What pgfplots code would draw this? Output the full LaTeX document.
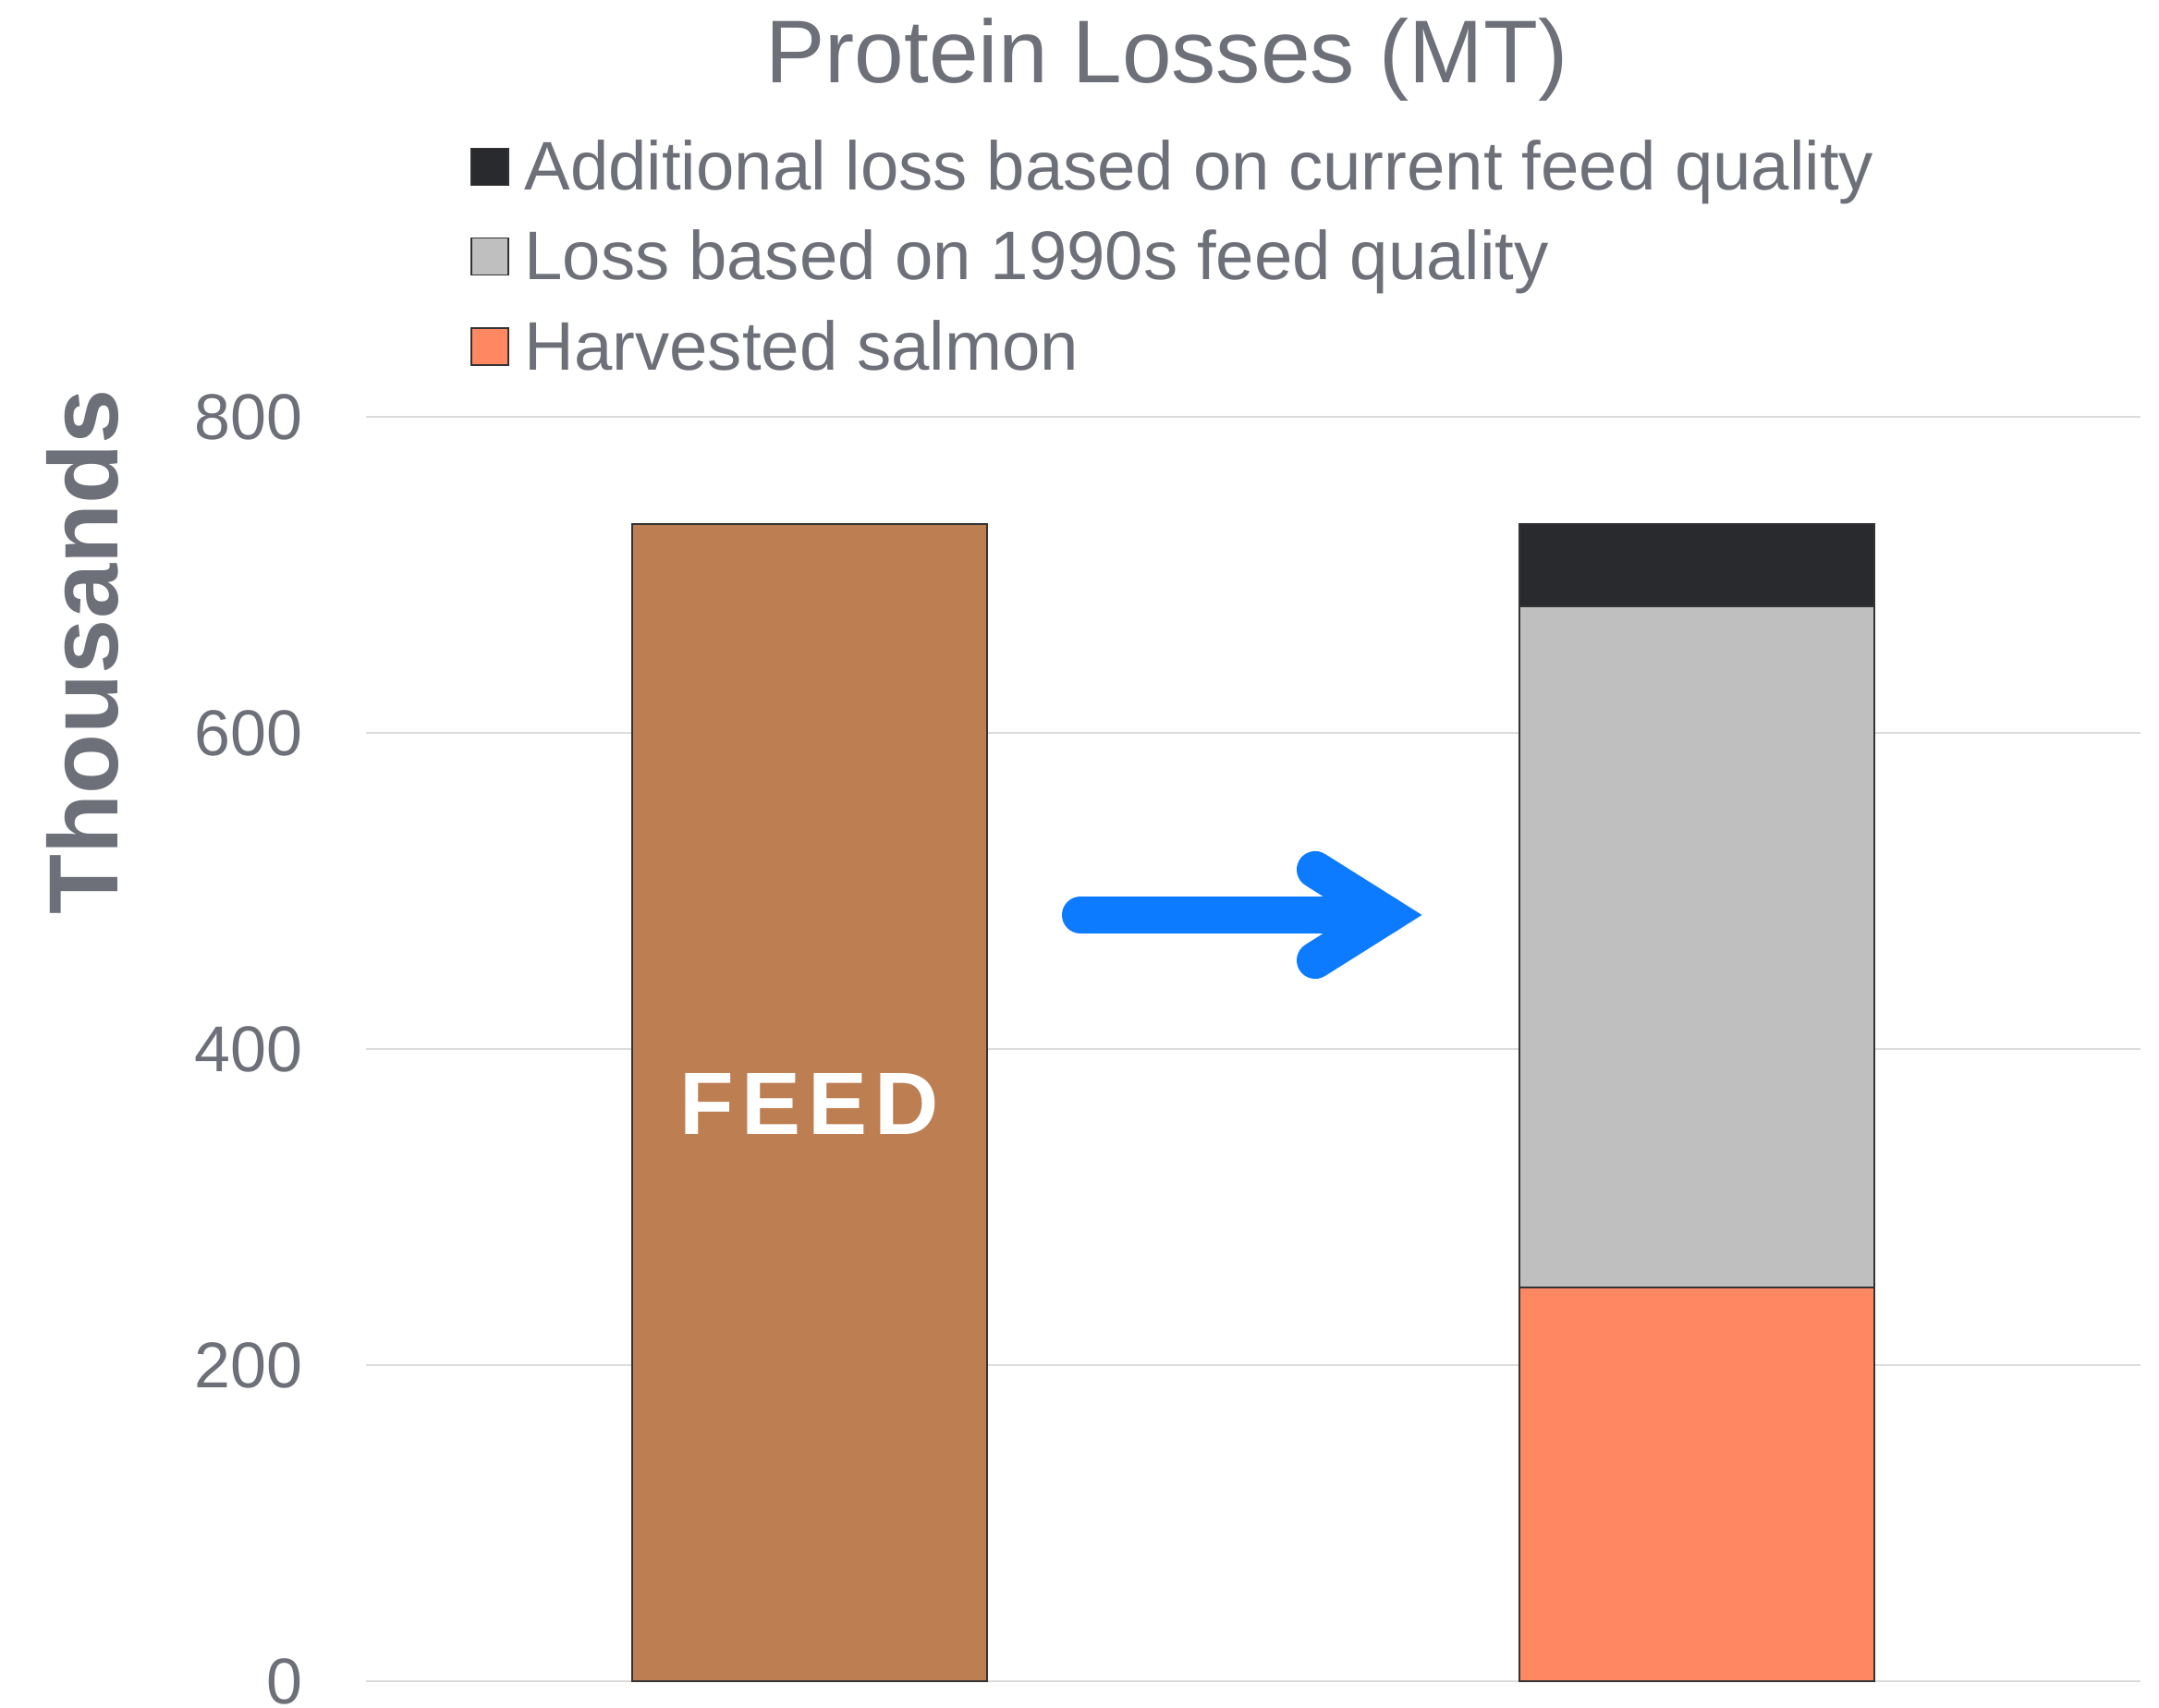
\documentclass[border=0pt]{standalone}
\usepackage{pgfplots}
\pgfplotsset{compat=1.18}
\usepackage{fontspec}
\setmainfont{Liberation Sans}
\definecolor{txtgray}{HTML}{6E7079}
\definecolor{feedbrown}{HTML}{BD7E51}
\definecolor{darkloss}{HTML}{292A2E}
\definecolor{lossgray}{HTML}{BFBFBF}
\definecolor{salmon}{HTML}{FF8863}
\definecolor{arrowblue}{HTML}{0D7BFF}
\definecolor{gridc}{HTML}{DCDCDC}
\definecolor{edgec}{HTML}{333333}
\begin{document}
\begin{tikzpicture}
\useasboundingbox (-99pt,-7.25pt) rectangle (485pt,454.75pt);
\begin{axis}[
  at={(0pt,0pt)}, anchor=south west,
  scale only axis,
  width=480pt, height=342pt,
  xmin=-0.5, xmax=1.5,
  ymin=0, ymax=800,
  axis line style={draw=none},
  major tick length=0pt,
  tick style={draw=none},
  ybar stacked,
  bar width=0.4,
  xtick=\empty,
  ytick={0,200,400,600,800},
  ymajorgrids,
  grid style={gridc, line width=0.5pt},
  clip=false,
  /pgf/number format/assume math mode=true,
  yticklabel style={font=\fontsize{17.5}{20}\selectfont, text=txtgray, anchor=east, inner sep=0pt, xshift=-17pt},
  reverse legend,
  legend cell align=left,
  legend style={
    at={(0.05885,1.2202)}, anchor=north west,
    draw=none, fill=none, inner sep=0pt, outer sep=0pt,
    font=\fontsize{18.6}{22}\selectfont, text=txtgray,
    nodes={inner sep=0pt, outer sep=0pt, text height=14pt, text depth=4.7pt},
    row sep=5.6pt,
    /tikz/every odd column/.append style={column sep=4.2pt},
  },
  legend image code/.code={\draw[#1, draw=edgec, line width=0.4pt] (0pt,-3.3pt) rectangle (10pt,6.7pt);},
]
% Feed bar (not in legend)
\addplot+[ybar, fill=feedbrown, draw=edgec, line width=0.5pt, forget plot] coordinates {(0,732) (1,0)};
\addplot+[ybar, fill=salmon, draw=edgec, line width=0.5pt] coordinates {(0,0) (1,249)};
\addplot+[ybar, fill=lossgray, draw=edgec, line width=0.5pt] coordinates {(0,0) (1,431)};
\addplot+[ybar, fill=darkloss, draw=edgec, line width=0.5pt] coordinates {(0,0) (1,52)};
\legend{Harvested salmon, Loss based on 1990s feed quality, Additional loss based on current feed quality}
\draw[arrowblue, line width=10pt, line cap=round] (axis cs:0.3052,484.8) -- (axis cs:0.6510,484.8);
\draw[arrowblue, line width=10pt, line cap=round, line join=miter] (axis cs:0.5698,513.5) -- (axis cs:0.6510,484.8) -- (axis cs:0.5698,456.1);
\end{axis}
\node[anchor=base, inner sep=0pt, text=white, font=\fontsize{24}{28}\selectfont\bfseries] at (120pt,147.75pt) {F\kern2pt E\kern2pt E\kern2pt D};
\node[anchor=base, inner sep=0pt, text=txtgray, font=\fontsize{24.1}{28}\selectfont] at (216.6pt,432.4pt) {Protein Losses (MT)};
\node[anchor=base, rotate=90, inner sep=0pt, text=txtgray, font=\fontsize{26.6}{32}\selectfont\bfseries] at (-67pt,278.4pt) {Thousands};
\end{tikzpicture}
\end{document}
